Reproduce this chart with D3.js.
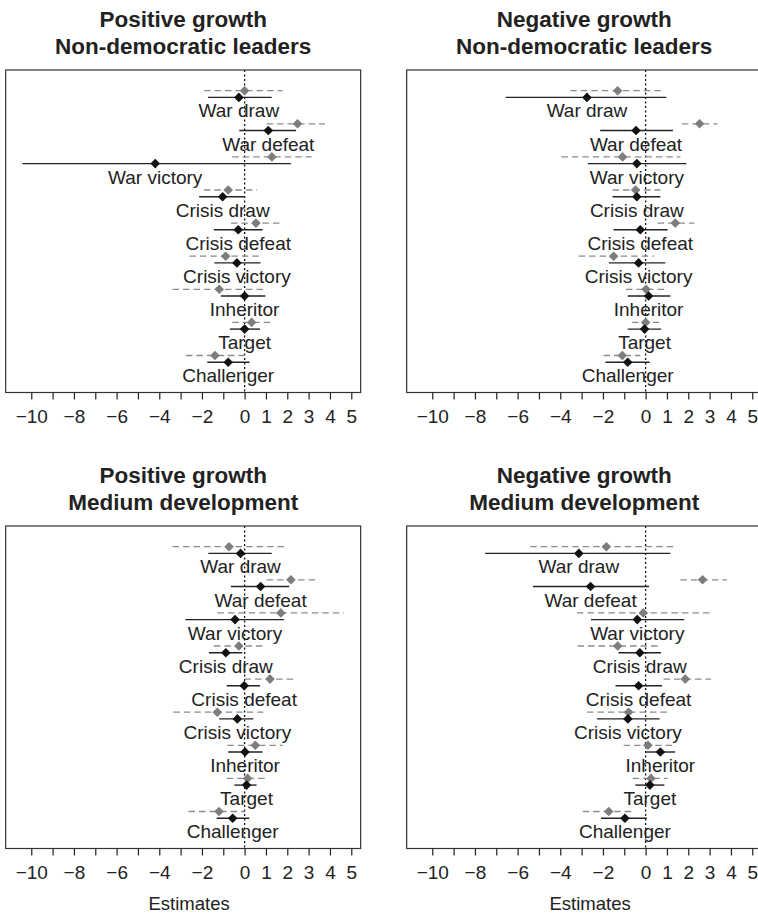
<!DOCTYPE html>
<html>
<head>
<meta charset="utf-8">
<script src="https://cdn.jsdelivr.net/npm/d3@7"></script>
<style>
  body { margin: 0; background: #fff; }
  text { font-family: "Liberation Sans", Arial, sans-serif; fill: #222; }
</style>
</head>
<body>
<script>
// categories, top to bottom
var categories = ['War draw','War defeat','War victory','Crisis draw','Crisis defeat',
                  'Crisis victory','Inheritor','Target','Challenger'];
var tickValues = [-10,-9,-8,-7,-6,-5,-4,-3,-2,-1,0,1,2,3,4,5];
var tickLabels = ['\u221210','','\u22128','','\u22126','','\u22124','','\u22122','','0','1','2','3','4','5'];

// [estimate, lower, upper] -- black = solid, grey = dashed
var posNonDemBlack = [[-0.27,-1.72,1.27],[1.11,-0.25,2.41],[-4.19,-10.41,2.17],[-1.03,-2.13,0.0],
                      [-0.3,-1.44,0.84],[-0.36,-1.42,0.75],[0.0,-1.11,0.97],[0.0,-0.69,0.72],[-0.77,-1.75,0.23]];
var posNonDemGrey  = [[0.0,-1.9,1.78],[2.48,1.03,3.77],[1.28,-0.58,3.14],[-0.77,-1.91,0.59],
                      [0.53,-0.64,1.66],[-0.89,-2.59,0.8],[-1.19,-3.38,1.0],[0.33,-0.58,1.22],[-1.39,-2.75,0.02]];
var negNonDemBlack = [[-2.75,-6.56,0.97],[-0.45,-2.13,1.28],[-0.41,-2.7,1.91],[-0.41,-1.55,0.69],
                      [-0.25,-1.5,1.03],[-0.33,-1.72,0.92],[0.14,-0.84,1.16],[-0.05,-0.84,0.73],[-0.84,-1.88,0.19]];
var negNonDemGrey  = [[-1.31,-3.53,0.84],[2.53,1.7,3.38],[-1.08,-3.95,1.63],[-0.47,-1.55,0.69],
                      [1.39,0.56,2.28],[-1.5,-3.14,0.38],[0.02,-0.92,0.88],[0.0,-0.64,0.63],[-1.09,-1.97,-0.25]];
var posMedBlack    = [[-0.19,-1.7,1.27],[0.75,-0.64,2.09],[-0.45,-2.77,1.84],[-0.88,-1.67,-0.11],
                      [-0.02,-0.84,0.72],[-0.34,-1.19,0.41],[0.02,-0.77,0.84],[0.09,-0.48,0.56],[-0.56,-1.31,0.22]];
var posMedGrey     = [[-0.73,-3.38,2.0],[2.17,1.03,3.5],[1.7,-1.28,4.66],[-0.27,-1.44,0.88],
                      [1.19,0.0,2.31],[-1.28,-3.34,0.88],[0.5,-0.81,1.78],[0.14,-0.84,0.98],[-1.2,-2.63,0.02]];
var negMedBlack    = [[-3.13,-7.52,1.16],[-2.58,-5.28,0.16],[-0.39,-2.56,1.81],[-0.27,-1.27,0.72],
                      [-0.33,-1.41,0.77],[-0.83,-2.28,0.66],[0.69,0.03,1.38],[0.2,-0.48,0.88],[-0.97,-2.09,0.06]];
var negMedGrey     = [[-1.84,-5.41,1.39],[2.67,1.63,3.81],[-0.11,-3.22,3.03],[-1.31,-3.19,0.61],
                      [1.86,0.84,3.06],[-0.8,-2.75,1.13],[0.11,-1.03,1.23],[0.25,-0.61,1.03],[-1.73,-2.95,-0.61]];

var panels = [
  {title:['Positive growth','Non-democratic leaders'], left:5.67,   top:70,  black:posNonDemBlack, grey:posNonDemGrey, xlab:false},
  {title:['Negative growth','Non-democratic leaders'], left:406.67, top:70,  black:negNonDemBlack, grey:negNonDemGrey, xlab:false},
  {title:['Positive growth','Medium development'],     left:5.67,   top:526, black:posMedBlack,    grey:posMedGrey,    xlab:true},
  {title:['Negative growth','Medium development'],     left:406.67, top:526, black:negMedBlack,    grey:negMedGrey,    xlab:true}
];

var boxW = 355, boxH = 322.5;

var svg = d3.select('body').append('svg').attr('width',758).attr('height',913);

function diamond(g, x, y, r, col){
  g.append('path')
    .attr('d','M'+x+','+(y-r)+'L'+(x+r)+','+y+'L'+x+','+(y+r)+'L'+(x-r)+','+y+'Z')
    .attr('fill',col);
}

panels.forEach(function(p){
  var g = svg.append('g').attr('transform','translate('+p.left+','+p.top+')');

  var x = d3.scaleLinear().domain([-11.2,5.44]).range([0,boxW]);
  var y = d3.scaleLinear().domain([0,categories.length-1]).range([27.4,27.4+33.1*8]);

  // title
  g.append('text').attr('x',boxW/2).attr('y',-42.7).attr('text-anchor','middle')
    .style('font-weight','bold').style('font-size','22.5px').text(p.title[0]);
  g.append('text').attr('x',boxW/2).attr('y',-15.7).attr('text-anchor','middle')
    .style('font-weight','bold').style('font-size','22.5px').text(p.title[1]);

  // zero reference line
  g.append('line').attr('x1',x(0)).attr('x2',x(0)).attr('y1',0).attr('y2',boxH)
    .attr('stroke','#111').attr('stroke-width',1.3).attr('stroke-dasharray','2,2.5');

  // grey (dashed) series
  p.grey.forEach(function(d,i){
    var yy = y(i) - 6.7;
    g.append('line').attr('x1',x(d[1])).attr('x2',x(d[2])).attr('y1',yy).attr('y2',yy)
      .attr('stroke','#8c8c8c').attr('stroke-width',1.3).attr('stroke-dasharray','6.5,4');
    diamond(g, x(d[0]), yy, 4.8, '#7d7d7d');
  });

  // black (solid) series + labels
  p.black.forEach(function(d,i){
    var yy = y(i);
    g.append('line').attr('x1',x(d[1])).attr('x2',x(d[2])).attr('y1',yy).attr('y2',yy)
      .attr('stroke','#222').attr('stroke-width',1.4);
    diamond(g, x(d[0]), yy, 4.8, '#111');
    g.append('text').attr('x',x(d[0])).attr('y',yy+20).attr('text-anchor','middle')
      .style('font-size','19px').text(categories[i]);
  });

  // box
  g.append('rect').attr('x',0).attr('y',0).attr('width',boxW).attr('height',boxH)
    .attr('fill','none').attr('stroke','#333').attr('stroke-width',1.2);

  // x axis
  var xAxis = d3.axisBottom(x).tickValues(tickValues).tickSize(7).tickSizeOuter(0)
    .tickFormat(function(d,i){ return tickLabels[i]; });
  var ax = g.append('g').attr('transform','translate(0,'+boxH+')').call(xAxis);
  ax.select('.domain').remove();
  ax.selectAll('line').attr('stroke','#222').attr('stroke-width',1.2);
  ax.selectAll('text').attr('y',17).style('font-size','19px')
    .style('font-family','"Liberation Sans", Arial, sans-serif').attr('fill','#222');

  if (p.xlab) {
    g.append('text').attr('x',x(-2.6)).attr('y',boxH+61).attr('text-anchor','middle')
      .style('font-size','18.5px').text('Estimates');
  }
});
</script>
</body>
</html>
